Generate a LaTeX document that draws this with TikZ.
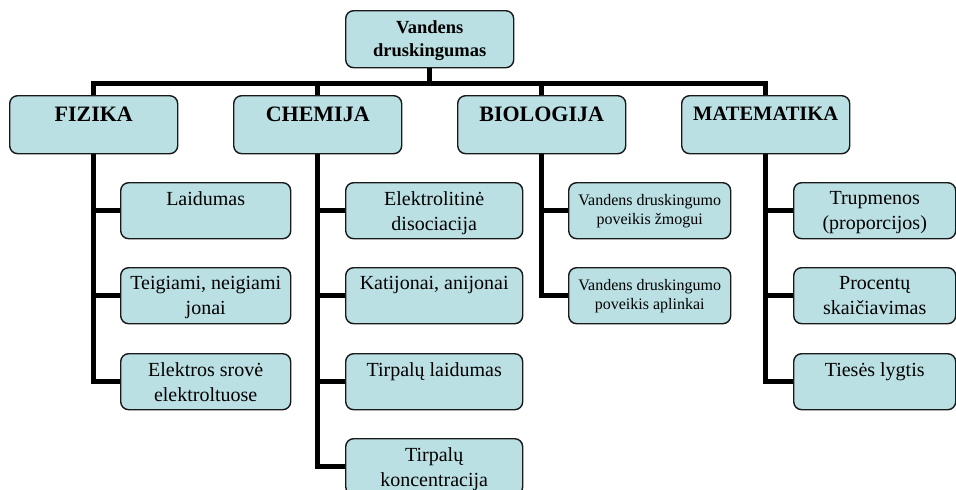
\documentclass[tikz,border=0pt]{standalone}
\usepackage{fontspec}
\setmainfont{Liberation Serif}
\usetikzlibrary{backgrounds}
\definecolor{boxfill}{RGB}{187,224,227}
\definecolor{boxline}{RGB}{25,25,25}
\newcommand\fchild{\fontsize{20}{25}\selectfont}
\newcommand\fbio{\fontsize{16}{19}\selectfont}
\newcommand\fhead{\fontsize{22}{26}\selectfont\bfseries}
\newcommand\ftop{\fontsize{18.5}{23}\selectfont\bfseries}
\begin{document}
\begin{tikzpicture}[x=1pt,y=-1pt,
  box/.style={draw=boxline, line width=1.4pt, fill=boxfill, rounded corners=8pt,
              anchor=north west, inner sep=0pt},
  headbox/.style={box, minimum width=168pt, minimum height=58pt},
  childbox/.style={box, minimum height=56pt},
  lab/.style={anchor=north, inner sep=0pt, align=center},
  conn/.style={line width=5pt, black}
]
\useasboundingbox (0,0) rectangle (956,490);

% top node
\node[box, minimum width=168pt, minimum height=57pt,
  label={[lab, font=\ftop, yshift=-10pt]north:{Vandens\\druskingumas}}] (top) at (345,10) {};

% level 1
\node[headbox, label={[lab, font=\fhead, yshift=-12pt]north:FIZIKA}] (fiz) at (9,95) {};
\node[headbox, label={[lab, font=\fhead, yshift=-12pt]north:CHEMIJA}] (chem) at (233,95) {};
\node[headbox, label={[lab, font=\fhead, yshift=-12pt]north:BIOLOGIJA}] (bio) at (457,95) {};
\node[headbox, label={[lab, font=\fontsize{20.5}{25}\selectfont\bfseries, yshift=-12pt]north:MATEMATIKA}] (mat) at (681,95) {};

% FIZIKA children
\node[childbox, minimum width=170pt, label={[lab, font=\fchild, yshift=-9pt]north:Laidumas}] (f1) at (120,182) {};
\node[childbox, minimum width=170pt, label={[lab, font=\fchild, yshift=-9pt]north:{Teigiami, neigiami\\jonai}}] (f2) at (120,267) {};
\node[childbox, minimum width=170pt, label={[lab, font=\fchild, yshift=-9pt]north:{Elektros srovė\\elektroltuose}}] (f3) at (120,353) {};

% CHEMIJA children
\node[childbox, minimum width=177pt, label={[lab, font=\fchild, yshift=-9pt]north:{Elektrolitinė\\disociacija}}] (c1) at (345,182) {};
\node[childbox, minimum width=177pt, label={[lab, font=\fchild, yshift=-9pt]north:{Katijonai, anijonai}}] (c2) at (345,267) {};
\node[childbox, minimum width=177pt, label={[lab, font=\fchild, yshift=-9pt]north:{Tirpalų laidumas}}] (c3) at (345,353) {};
\node[childbox, minimum width=177pt, label={[lab, font=\fchild, yshift=-9pt]north:{Tirpalų\\koncentracija}}] (c4) at (345,438) {};

% BIOLOGIJA children
\node[childbox, minimum width=162pt, label={[lab, font=\fbio, yshift=-12pt]north:{Vandens druskingumo\\poveikis žmogui}}] (b1) at (568,182) {};
\node[childbox, minimum width=162pt, label={[lab, font=\fbio, yshift=-12pt]north:{Vandens druskingumo\\poveikis aplinkai}}] (b2) at (568,267) {};

% MATEMATIKA children
\node[childbox, minimum width=162pt, label={[lab, font=\fchild, yshift=-9pt]north:{Trupmenos\\(proporcijos)}}] (m1) at (793,182) {};
\node[childbox, minimum width=162pt, label={[lab, font=\fchild, yshift=-9pt]north:{Procentų\\skaičiavimas}}] (m2) at (793,267) {};
\node[childbox, minimum width=162pt, label={[lab, font=\fchild, yshift=-9pt]north:{Tiesės lygtis}}] (m3) at (793,353) {};

\coordinate (bus) at (0,83);

\begin{pgfonlayer}{background}
  \draw[conn] (top.south) -- (top.south |- bus);
  \draw[conn] (fiz.north) -- (fiz.north |- bus) -- (mat.north |- bus) -- (mat.north);
  \draw[conn] (chem.north) -- (chem.north |- bus);
  \draw[conn] (bio.north) -- (bio.north |- bus);

  \draw[conn] (fiz.south) |- (f3.west);
  \draw[conn] (fiz.south |- f1.west) -- (f1.west);
  \draw[conn] (fiz.south |- f2.west) -- (f2.west);

  \draw[conn] (chem.south) |- (c4.west);
  \draw[conn] (chem.south |- c1.west) -- (c1.west);
  \draw[conn] (chem.south |- c2.west) -- (c2.west);
  \draw[conn] (chem.south |- c3.west) -- (c3.west);

  \draw[conn] (bio.south) |- (b2.west);
  \draw[conn] (bio.south |- b1.west) -- (b1.west);

  \draw[conn] (mat.south) |- (m3.west);
  \draw[conn] (mat.south |- m1.west) -- (m1.west);
  \draw[conn] (mat.south |- m2.west) -- (m2.west);
\end{pgfonlayer}
\end{tikzpicture}
\end{document}
